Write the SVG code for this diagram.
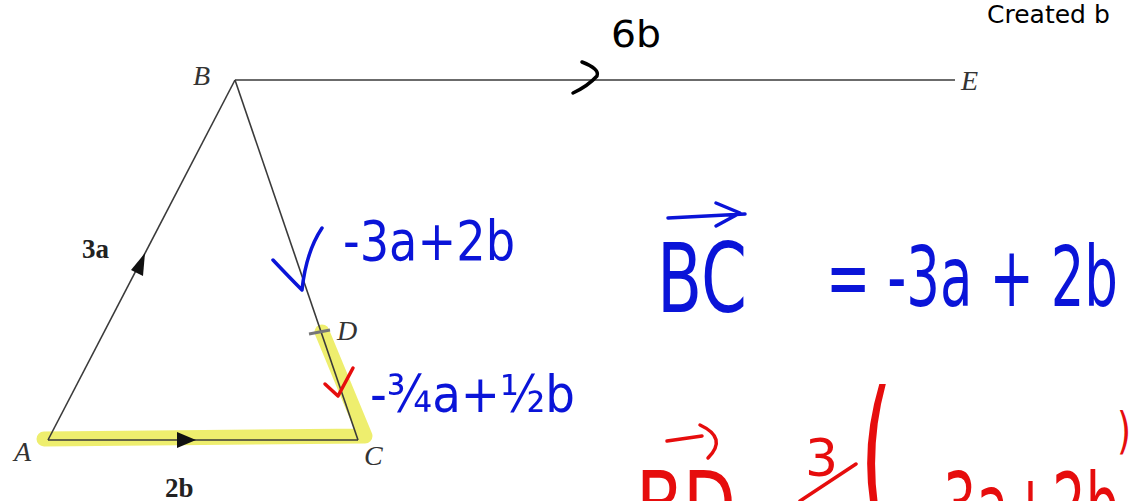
<svg xmlns="http://www.w3.org/2000/svg" width="1129" height="501" viewBox="0 0 1129 501">
<style>
.edge{stroke:#3a3a3a;stroke-width:1.6;fill:none}
.lbl{font-family:"Liberation Serif",serif;font-style:italic;font-size:28px;fill:#333}
.vec{font-family:"Liberation Serif",serif;font-weight:bold;font-size:27px;fill:#222}
.blue{font-family:"DejaVu Sans","Liberation Sans",sans-serif;fill:#0a14d8}
.red{font-family:"DejaVu Sans","Liberation Sans",sans-serif;fill:#e60d0d}
.ink{fill:none;stroke-width:3.5;stroke-linecap:round;stroke-linejoin:round}
.hl{fill:none;stroke:#eaea4a;stroke-opacity:0.8;stroke-width:15;stroke-linecap:round;stroke-linejoin:round}
</style>
<rect width="1129" height="501" fill="#fff"/>
<g id="highlight">
<path class="hl" d="M44,439 L365,436 L322,332"/>
</g>
<g id="connectors">
<line class="edge" x1="48" y1="440" x2="235" y2="80"/>
<line class="edge" x1="235" y1="80" x2="358" y2="440"/>
<line class="edge" x1="48" y1="440" x2="358" y2="440"/>
<line class="edge" x1="235" y1="80" x2="955" y2="80"/>
<polygon points="145,253 131,270 143,276" fill="#111"/>
<polygon points="196,440 177,432 177,448" fill="#111"/>
<line x1="309" y1="334" x2="330" y2="330" stroke="#777" stroke-width="3"/>
</g>
<g id="node-B"><text class="lbl" x="193" y="85">B</text></g>
<g id="node-E"><text class="lbl" x="961" y="90">E</text></g>
<g id="node-A"><text class="lbl" x="14" y="461">A</text></g>
<g id="node-C"><text class="lbl" x="364" y="465">C</text></g>
<g id="node-D"><text class="lbl" x="337" y="340">D</text></g>
<g id="label-3a"><text class="vec" x="82" y="258">3a</text></g>
<g id="label-2b"><text class="vec" x="165" y="497">2b</text></g>
<g id="credit"><text x="987" y="23" font-family="'DejaVu Sans','Liberation Sans',sans-serif" font-size="25" fill="#000">Created b</text></g>
<g id="ann-6b">
<text x="611" y="47" font-family="'DejaVu Sans','Liberation Sans',sans-serif" font-size="38" fill="#000" textLength="50" lengthAdjust="spacingAndGlyphs">6b</text>
<path class="ink" stroke="#000" stroke-width="3" d="M582,62 Q600,69 597,76 Q588,86 573,93"/>
</g>
<g id="ann-BC-side">
<path class="ink" stroke="#0a14d8" d="M273,260 Q290,278 302,290 Q306,252 322,228"/>
<text class="blue" x="343" y="260" font-size="56" textLength="172" lengthAdjust="spacingAndGlyphs">-3a+2b</text>
</g>
<g id="ann-DC-side">
<path class="ink" stroke="#e60d0d" stroke-width="4.5" d="M325,384 L338,396 L353,368"/>
<text class="blue" x="370" y="412" font-size="52" textLength="205" lengthAdjust="spacingAndGlyphs">-¾a+½b</text>
</g>
<g id="ann-BC-eq">
<path class="ink" stroke="#0a14d8" d="M668,218 L745,214 M716,203 L740,213 L716,226"/>
<text class="blue" x="657" y="312" font-size="96" textLength="90" lengthAdjust="spacingAndGlyphs">BC</text>
<text class="blue" x="826" y="306" font-size="84" textLength="292" lengthAdjust="spacingAndGlyphs">= -3a + 2b</text>
</g>
<g id="ann-BD-eq">
<path class="ink" stroke="#e60d0d" d="M667,441 L702,436 M700,425 Q728,438 708,458"/>
<text class="red" x="636" y="540" font-size="96" textLength="100" lengthAdjust="spacingAndGlyphs">BD</text>
<text class="red" x="805" y="476" font-size="52">3</text>
<line x1="800" y1="501" x2="856" y2="464" stroke="#e60d0d" stroke-width="3.5" stroke-linecap="round"/>
<text class="red" font-size="64" transform="translate(860,520) scale(1.3,2.8)">(</text>
<text class="red" x="924" y="538" font-size="90" textLength="195" lengthAdjust="spacingAndGlyphs">-3a+2b</text>
<text class="red" font-size="36" transform="translate(1117,448) scale(1,1.4)">)</text>
</g>
</svg>
